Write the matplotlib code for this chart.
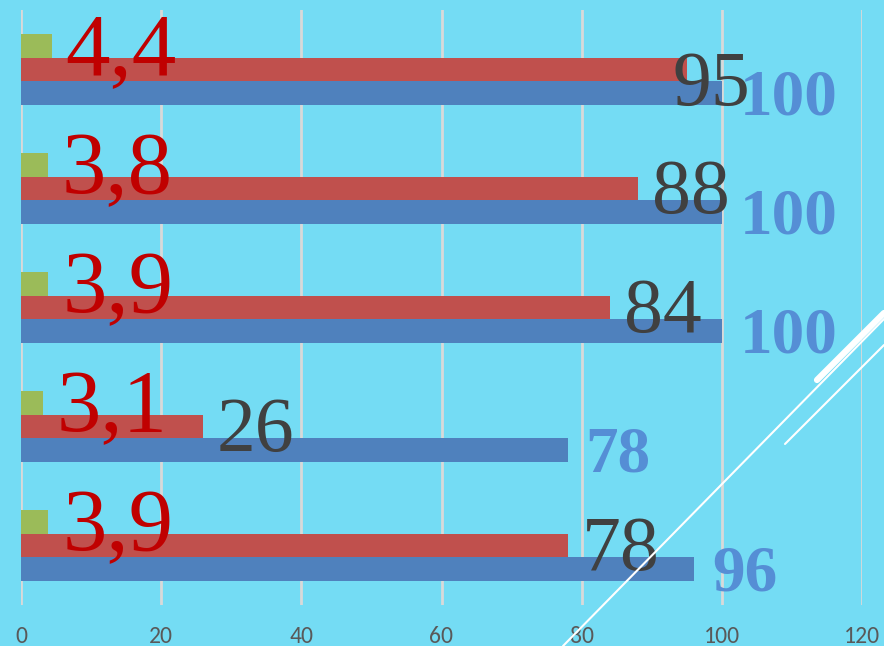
import matplotlib.pyplot as plt
from matplotlib.lines import Line2D

# data, bottom group first
positions = [0, 1, 2, 3, 4]
blue_vals = [96, 78, 100, 100, 100]
red_vals = [78, 26, 84, 88, 95]
green_vals = [3.9, 3.1, 3.9, 3.8, 4.4]
green_labels = ["3,9", "3,1", "3,9", "3,8", "4,4"]
x_ticks = [0, 20, 40, 60, 80, 100, 120]

BG = "#74DCF4"
BLUE = "#4F81BD"
RED = "#C0504D"
GREEN = "#9BBB59"
SERIF = "Liberation Serif"


def main():
    fig = plt.figure(figsize=(8.84, 6.46), dpi=100, facecolor=BG)
    ax = fig.add_axes([21 / 884, 41 / 646, 841 / 884, 595 / 646])
    ax.set_facecolor(BG)

    h = 0.2
    blue_y = [p - h for p in positions]
    green_y = [p + h for p in positions]
    ax.barh(blue_y, blue_vals, height=h, color=BLUE, zorder=3)
    ax.barh(positions, red_vals, height=h, color=RED, zorder=3)
    ax.barh(green_y, green_vals, height=h, color=GREEN, zorder=3)

    ax.set_xlim(0, 120)
    ax.set_ylim(-0.5, 4.5)
    ax.set_xticks(x_ticks)
    ax.set_yticks([])
    ax.grid(axis="x", color="#D9D9D9", linewidth=2, zorder=0)
    for s in ax.spines.values():
        s.set_visible(False)
    ax.tick_params(axis="x", length=0, pad=15, labelsize=17, labelcolor="#595959")
    for lab in ax.get_xticklabels():
        lab.set_family("Carlito")

    for y, v in zip(blue_y, blue_vals):
        ax.annotate(str(v), (v, y), xytext=(13, -4), textcoords="offset points",
                    va="center", ha="left", fontsize=47, fontweight="bold",
                    color="#558ED5", family=SERIF, zorder=5)
    # small manual nudges (points) for the red labels
    red_nudge = [(10, -4), (10, -4), (10, -4), (10, -4), (-10, -12)]
    for y, v, nd in zip(positions, red_vals, red_nudge):
        ax.annotate(str(v), (v, y), xytext=nd, textcoords="offset points",
                    va="center", ha="left", fontsize=56,
                    color="#404040", family=SERIF, zorder=6)
    for y, v, t in zip(green_y, green_vals, green_labels):
        ax.annotate(t, (v, y), xytext=(10, -5), textcoords="offset points",
                    va="center", ha="left", fontsize=64,
                    color="#C00000", family=SERIF, zorder=6)

    # decorative slide lines
    W, H = 884, 646
    for (x0, y0, x1, y1, lw) in [(563, 646, 884, 319, 1.5),
                                 (785, 444, 884, 345, 1.5),
                                 (817, 380, 884, 313, 4.5)]:
        fig.add_artist(Line2D([x0 / W, x1 / W], [1 - y0 / H, 1 - y1 / H],
                              transform=fig.transFigure, color="white",
                              linewidth=lw, solid_capstyle="round", zorder=10))

    fig.savefig("out.png", dpi=100, facecolor=BG)


if __name__ == "__main__":
    main()
